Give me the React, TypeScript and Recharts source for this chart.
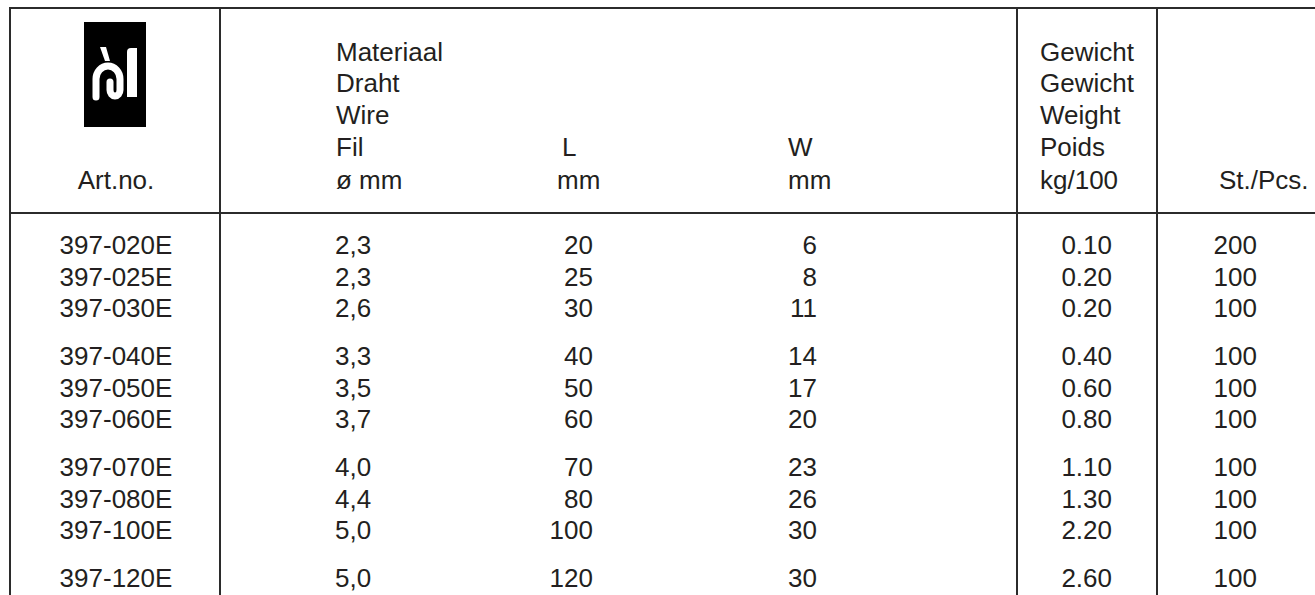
import React from 'react';
import { ScatterChart, Scatter, XAxis, YAxis, ReferenceLine } from 'recharts';

// ---- data ----
const artNo = ['397-020E', '397-025E', '397-030E', '397-040E', '397-050E', '397-060E', '397-070E', '397-080E', '397-100E', '397-120E'];
const wireDia = ['2,3', '2,3', '2,6', '3,3', '3,5', '3,7', '4,0', '4,4', '5,0', '5,0'];
const lengthMm = [20, 25, 30, 40, 50, 60, 70, 80, 100, 120];
const widthMm = [6, 8, 11, 14, 17, 20, 23, 26, 30, 30];
const weightKg = [0.1, 0.2, 0.2, 0.4, 0.6, 0.8, 1.1, 1.3, 2.2, 2.6];
const pieces = [200, 100, 100, 100, 100, 100, 100, 100, 100, 100];
const groupSizes = [3, 3, 3, 1];

const headArt = ['Art.no.'];
const headWire = ['Materiaal', 'Draht', 'Wire', 'Fil', 'ø mm'];
const headL = ['L', 'mm'];
const headW = ['W', 'mm'];
const headWeight = ['Gewicht', 'Gewicht', 'Weight', 'Poids', 'kg/100'];
const headPcs = ['St./Pcs.'];

// ---- layout ----
const W = 1315;
const H = 595;
const ROW_PX = 31.5;
const FIRST_ROW_PX = 245;
const GROUP_GAP = 0.524;
const headerLineY = [52, 83, 114.5, 147, 180];
const FONT = "'Liberation Sans', Arial, Helvetica, sans-serif";
const TEXT = '#231f20';
const LINE = '#2b2b2b';

const rowSlots: number[] = [];
{
  let idx = 0;
  groupSizes.forEach((n, g) => {
    for (let i = 0; i < n; i++) {
      rowSlots.push(idx + g * GROUP_GAP);
      idx++;
    }
  });
}

const columns = [
  { key: 'art', x: 116, anchor: 'middle', values: artNo },
  { key: 'wire', x: 335, anchor: 'start', values: wireDia },
  { key: 'len', x: 593, anchor: 'end', values: lengthMm.map(String) },
  { key: 'wid', x: 817, anchor: 'end', values: widthMm.map(String) },
  { key: 'wt', x: 1112, anchor: 'end', values: weightKg.map((v) => v.toFixed(2)) },
  { key: 'pcs', x: 1257, anchor: 'end', values: pieces.map(String) },
];

const headers = [
  { key: 'hArt', xs: [116], anchor: 'middle', lines: headArt },
  { key: 'hWire', xs: [336], anchor: 'start', lines: headWire },
  { key: 'hL', xs: [562, 557], anchor: 'start', lines: headL },
  { key: 'hW', xs: [788, 788], anchor: 'start', lines: headW },
  { key: 'hWt', xs: [1040], anchor: 'start', lines: headWeight },
  { key: 'hPcs', xs: [1219], anchor: 'start', lines: headPcs },
];

const rowDomain: [number, number] = [-FIRST_ROW_PX / ROW_PX, -FIRST_ROW_PX / ROW_PX + H / ROW_PX];

const colData = columns.map((c) => ({
  ...c,
  data: c.values.map((v, i) => ({ x: c.x, y: rowSlots[i], label: v })),
}));

const headData = headers.map((h) => ({
  ...h,
  data: h.lines.map((t, i) => {
    const lineIdx = headerLineY.length - h.lines.length + i;
    return { x: h.xs[Math.min(i, h.xs.length - 1)], y: headerLineY[lineIdx], label: t };
  }),
}));

const makeText = (anchor: string) => (props: any) => (
  <text
    x={props.cx}
    y={props.cy}
    dy="0.36em"
    textAnchor={anchor}
    fontFamily={FONT}
    fontSize={26}
    fill={TEXT}
  >
    {props.payload.label}
  </text>
);

const Logo = (props: any) => {
  const { cx, cy } = props;
  const x0 = cx - 31;
  const y0 = cy - 52.5;
  return (
    <g>
      <rect x={x0} y={y0} width={62} height={105} fill="#000" />
      {/* accent tick */}
      <path d={`M ${x0 + 16} ${y0 + 25} L ${x0 + 22} ${y0 + 25} L ${x0 + 26} ${y0 + 39} L ${x0 + 21} ${y0 + 39} Z`} fill="#fff" />
      {/* hook */}
      <path
        d={`M ${x0 + 12} ${y0 + 75} L ${x0 + 12} ${y0 + 57} A 12 13 0 0 1 ${x0 + 36} ${y0 + 57} L ${x0 + 36} ${y0 + 68} A 5 6 0 0 1 ${x0 + 26} ${y0 + 68} L ${x0 + 26} ${y0 + 60}`}
        stroke="#fff"
        strokeWidth={7}
        fill="none"
        strokeLinecap="round"
      />
      {/* bar */}
      <path d={`M ${x0 + 43} ${y0 + 30} Q ${x0 + 43} ${y0 + 26} ${x0 + 47} ${y0 + 26} L ${x0 + 53} ${y0 + 26} L ${x0 + 53} ${y0 + 75} L ${x0 + 43} ${y0 + 75} Z`} fill="#fff" />
    </g>
  );
};

const vLines = [10, 220, 1017, 1157];

export default function App() {
  return (
    <div style={{ position: 'absolute', left: 0, top: 0, width: W, height: H, background: '#fff' }}>
      <ScatterChart width={W} height={H} margin={{ top: 0, right: 0, bottom: 0, left: 0 }}>
        <XAxis type="number" dataKey="x" domain={[0, W]} allowDataOverflow hide />
        <YAxis yAxisId="rows" type="number" dataKey="y" domain={rowDomain} allowDataOverflow reversed hide width={0} />
        <YAxis yAxisId="px" type="number" dataKey="y" domain={[0, H]} allowDataOverflow reversed hide width={0} />

        <ReferenceLine yAxisId="px" segment={[{ x: 9, y: 8 }, { x: W, y: 8 }]} stroke={LINE} strokeWidth={2.2} />
        <ReferenceLine yAxisId="px" segment={[{ x: 10, y: 213 }, { x: W, y: 213 }]} stroke={LINE} strokeWidth={2} />
        {vLines.map((vx) => (
          <ReferenceLine key={vx} yAxisId="px" segment={[{ x: vx, y: 8 }, { x: vx, y: H }]} stroke={LINE} strokeWidth={2} />
        ))}

        <Scatter yAxisId="px" data={[{ x: 115, y: 74.5 }]} shape={Logo} isAnimationActive={false} />

        {headData.map((h) => (
          <Scatter key={h.key} yAxisId="px" data={h.data} shape={makeText(h.anchor)} isAnimationActive={false} />
        ))}
        {colData.map((c) => (
          <Scatter key={c.key} yAxisId="rows" data={c.data} shape={makeText(c.anchor)} isAnimationActive={false} />
        ))}
      </ScatterChart>
    </div>
  );
}
